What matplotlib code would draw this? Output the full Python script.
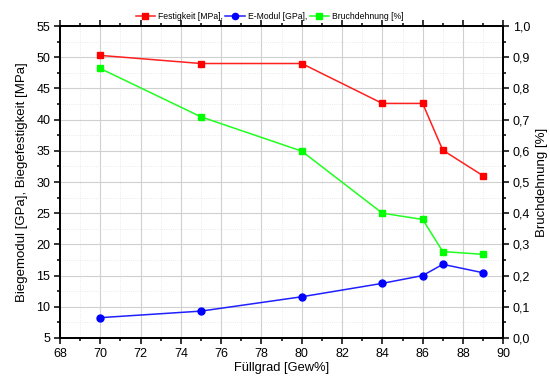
import matplotlib.pyplot as plt
from matplotlib.ticker import MultipleLocator, FuncFormatter

plt.rcParams['font.family'] = ['Liberation Sans', 'DejaVu Sans']

# Daten
fuellgrad = [70, 75, 80, 84, 86, 87, 89]
festigkeit = [50.3, 49.0, 49.0, 42.6, 42.6, 35.1, 31.0]
e_modul = [8.25, 9.3, 11.6, 13.75, 15.0, 16.8, 15.45]
bruchdehnung = [0.864, 0.709, 0.599, 0.400, 0.380, 0.277, 0.268]

fig = plt.figure(figsize=(5.5, 3.78), dpi=100)
ax = fig.add_axes([0.109, 0.106, 0.806, 0.825])
ax2 = ax.twinx()

l1, = ax.plot(fuellgrad, festigkeit, color='#ff2020', marker='s', markersize=5,
              markerfacecolor='red', markeredgecolor='red', lw=1.1, label='Festigkeit [MPa],')
l2, = ax.plot(fuellgrad, e_modul, color='#2020ff', marker='o', markersize=5,
              markerfacecolor='blue', markeredgecolor='blue', lw=1.1, label='E-Modul [GPa],')
l3, = ax2.plot(fuellgrad, bruchdehnung, color='#20ff20', marker='s', markersize=5,
               markerfacecolor='#00ff00', markeredgecolor='#00ff00', lw=1.1, label='Bruchdehnung [%]')

ax.set_xlim(68, 90)
ax.set_ylim(5, 55)
ax2.set_ylim(0, 1.0)

ax.xaxis.set_major_locator(MultipleLocator(2))
ax.xaxis.set_minor_locator(MultipleLocator(1))
ax.yaxis.set_major_locator(MultipleLocator(5))
ax.yaxis.set_minor_locator(MultipleLocator(2.5))
ax2.yaxis.set_major_locator(MultipleLocator(0.1))
ax2.yaxis.set_minor_locator(MultipleLocator(0.05))
ax2.yaxis.set_major_formatter(FuncFormatter(lambda v, p: f'{v:.1f}'.replace('.', ',')))

# Gitter
ax.grid(which='major', color='#d0d0d0', lw=0.8)
ax.grid(which='minor', color='#e4e4e4', lw=0.6, linestyle=':')
ax.set_axisbelow(True)

for a in (ax, ax2):
    for s in a.spines.values():
        s.set_linewidth(1.3)
ax.tick_params(which='both', labelsize=9, width=1.1, top=True, pad=3)
ax.tick_params(which='major', length=4)
ax.tick_params(which='minor', length=2.5)
ax.tick_params(axis='x', which='both', top=True, direction='out')
ax2.tick_params(which='both', labelsize=9, width=1.1, pad=3)
ax2.tick_params(which='major', length=4)
ax2.tick_params(which='minor', length=2.5)

ax.set_xlabel('Füllgrad [Gew%]', fontsize=9.3, labelpad=2)
ax.set_ylabel('Biegemodul [GPa], Biegefestigkeit [MPa]', fontsize=9.5, labelpad=6)
ax2.set_ylabel('Bruchdehnung [%]', fontsize=9.5, labelpad=4)

fig.legend(handles=[l1, l2, l3], loc='upper center', bbox_to_anchor=(0.49, 0.985),
           ncol=3, frameon=False, fontsize=6.2, handlelength=2.3, markerscale=0.9,
           columnspacing=0.3, handletextpad=0.3, borderaxespad=0.3)

fig.savefig('out.png', dpi=100)
